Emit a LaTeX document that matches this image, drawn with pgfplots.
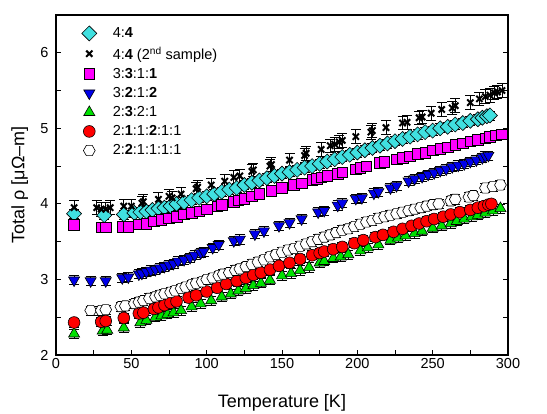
\documentclass[border=0pt]{standalone}
\usepackage{pgfplots}
\pgfplotsset{compat=1.18}
\usepackage{fontspec}
\setmainfont{Liberation Sans}

\definecolor{cyn}{RGB}{64,224,224}
\definecolor{mag}{RGB}{255,0,255}
\definecolor{blu}{RGB}{0,0,235}
\definecolor{grn}{RGB}{0,225,0}
\definecolor{rd}{RGB}{255,0,0}

% hexagon marker for the 2:2:1:1:1:1 sample
\pgfdeclareplotmark{hexagon}{%
  \pgfpathmoveto{\pgfqpointpolar{0}{\pgfplotmarksize}}%
  \pgfpathlineto{\pgfqpointpolar{60}{\pgfplotmarksize}}%
  \pgfpathlineto{\pgfqpointpolar{120}{\pgfplotmarksize}}%
  \pgfpathlineto{\pgfqpointpolar{180}{\pgfplotmarksize}}%
  \pgfpathlineto{\pgfqpointpolar{240}{\pgfplotmarksize}}%
  \pgfpathlineto{\pgfqpointpolar{300}{\pgfplotmarksize}}%
  \pgfpathclose
  \pgfusepathqfillstroke}

\begin{document}
\begin{tikzpicture}
\useasboundingbox (-56pt,-59pt) rectangle (491pt,355pt);
\begin{axis}[
  scale only axis,
  width=452pt, height=340pt,
  xmin=0, xmax=300, ymin=2, ymax=6.5,
  xtick={0,50,...,300}, ytick={2,3,4,5,6},
  minor x tick num=1, minor y tick num=1,
  tick align=inside, xtick pos=bottom, ytick pos=both, yticklabel pos=left,
  major tick length=5pt, minor tick length=5pt,
  every tick/.style={black, line width=0.9pt},
  axis line style={line width=1.2pt},
  tick label style={font=\fontsize{14.5}{16}\selectfont},
  /pgf/number format/assume math mode=true,
  yticklabel style={xshift=-4pt},
  xlabel={Temperature [K]},
  ylabel={Total ρ [μΩ–m]},
  label style={font=\fontsize{18}{20}\selectfont},
  xlabel style={at={(axis description cs:0.5,0)}, anchor=center, yshift=-48pt},
  ylabel style={at={(axis description cs:-0.08,0.5)}, anchor=center},
  legend style={at={(axis description cs:0.05,0.975)}, anchor=north west,
    draw=none, fill=none, font=\fontsize{14.5}{16}\selectfont, row sep=3.5pt,
    /tikz/every odd column/.append style={column sep=14pt}},
  legend cell align=left,
  error bars/y dir=both,
  error bars/error bar style={black, line width=0.75pt},
  error bars/error mark options={black, rotate=90, line width=0.75pt, mark size=5pt},
]
% 4:4
\addplot[only marks, mark=square*, mark size=5.3pt, line width=0.6pt,
  mark options={rotate=45, fill=cyn, draw=black},
  error bars/y fixed=0.06] coordinates {
  (12,3.87) (32,3.85) (45,3.86) (52,3.88) (56,3.89) (60,3.90) (64,3.92)
  (68,3.94) (72,3.95) (76,3.97) (80,4.00) (85,4.02) (90,4.05) (95,4.08)
  (100,4.10) (105,4.13) (110,4.16) (115,4.19) (120,4.21) (125,4.25)
  (130,4.28) (135,4.31) (140,4.34) (145,4.37) (150,4.40) (155,4.42)
  (160,4.45) (165,4.48) (170,4.50) (175,4.53) (180,4.56) (185,4.59)
  (190,4.62) (195,4.65) (200,4.68) (205,4.71) (210,4.74) (215,4.77)
  (220,4.80) (225,4.83) (230,4.86) (235,4.89) (240,4.92) (245,4.95)
  (250,4.97) (255,5.00) (260,5.02) (265,5.05) (270,5.07) (275,5.10)
  (280,5.12) (283,5.14) (286,5.16) (288,5.17)
};
\addlegendentry{4:\textbf{4}}
% 4:4 second sample
\addplot[only marks, mark=x, mark size=4.4pt, black,
  mark options={line width=2pt},
  error bars/y fixed=0.09] coordinates {
  (12,3.95) (27,3.95) (30,3.93) (33,3.93) (36,3.95) (45,3.97) (50,3.97)
  (57,4.01) (58,4.03) (68,4.06) (75,4.10) (77,4.08) (83,4.13) (93,4.20)
  (94,4.22) (103,4.25) (112,4.30) (118,4.35) (122,4.37) (130,4.43)
  (131,4.45) (142,4.50) (143,4.52) (155,4.58) (165,4.64) (166,4.67)
  (176,4.72) (182,4.77) (185,4.79) (188,4.82) (190,4.84) (199,4.89)
  (209,4.95) (210,4.97) (219,5.01) (230,5.07) (233,5.08) (241,5.14)
  (243,5.15) (249,5.20) (256,5.25) (263,5.27) (265,5.30) (275,5.34)
  (281,5.39) (285,5.42) (288,5.44) (291,5.47) (293,5.48) (296,5.50)
};
\addlegendentry{4:\textbf{4} (2\textsuperscript{nd} sample)}
% 3:3:1:1
\addplot[only marks, mark=square*, mark size=5.3pt, line width=0.6pt,
  mark options={fill=mag, draw=black},
  error bars/y fixed=0.06] coordinates {
  (12,3.72) (30,3.69) (33,3.69) (44,3.70) (48,3.70) (55,3.73) (60,3.74)
  (65,3.77) (70,3.79) (75,3.81) (80,3.83) (85,3.86) (90,3.88) (95,3.90)
  (100,3.93) (107,3.97) (110,3.99) (118,4.03) (121,4.05) (125,4.07)
  (130,4.10) (135,4.13) (143,4.17) (150,4.21) (158,4.25) (163,4.27)
  (170,4.32) (173,4.33) (176,4.35) (180,4.37) (187,4.40) (190,4.42)
  (199,4.46) (202,4.48) (206,4.50) (215,4.54) (218,4.56) (226,4.59)
  (230,4.61) (235,4.63) (240,4.66) (245,4.68) (250,4.71) (255,4.73)
  (260,4.75) (265,4.78) (270,4.80) (275,4.83) (280,4.85) (285,4.87)
  (288,4.89) (292,4.91) (296,4.92)
};
\addlegendentry{3:\textbf{3}:1:\textbf{1}}
% 3:2:1:2
\addplot[only marks, mark=triangle*, mark size=6.4pt, line width=0.6pt,
  mark options={rotate=180, fill=blu, draw=black},
  error bars/y fixed=0.06] coordinates {
  (12,2.99) (23,2.98) (33,2.98) (44,3.02) (48,3.03) (55,3.07) (57,3.08)
  (60,3.10) (63,3.12) (66,3.13) (69,3.15) (72,3.17) (75,3.19) (78,3.21)
  (81,3.24) (85,3.26) (89,3.29) (92,3.32) (96,3.35) (98,3.37) (104,3.42)
  (108,3.46) (118,3.51) (122,3.53) (132,3.60) (138,3.64) (148,3.71)
  (155,3.75) (163,3.80) (174,3.89) (178,3.91) (187,3.98) (190,4.01)
  (199,4.07) (203,4.08) (211,4.14) (214,4.16) (222,4.21) (226,4.24)
  (234,4.30) (238,4.33) (243,4.36) (247,4.39) (251,4.41) (255,4.44)
  (259,4.46) (263,4.49) (267,4.51) (271,4.53) (275,4.56) (279,4.58)
  (283,4.61) (285,4.63) (287,4.64)
};
\addlegendentry{3:\textbf{2}:1:\textbf{2}}
% 2:3:2:1
\addplot[only marks, mark=triangle*, mark size=6.4pt, line width=0.6pt,
  mark options={fill=grn, draw=black},
  error bars/y fixed=0.06] coordinates {
  (12,2.28) (31,2.32) (34,2.33) (45,2.36) (56,2.43) (60,2.46) (66,2.50)
  (70,2.52) (74,2.54) (78,2.56) (83,2.59) (90,2.64) (96,2.68) (103,2.72)
  (110,2.77) (116,2.81) (121,2.85) (126,2.88) (131,2.92) (136,2.95)
  (142,2.99) (150,3.05) (156,3.08) (162,3.12) (168,3.16) (175,3.22)
  (178,3.24) (184,3.28) (189,3.30) (194,3.33) (202,3.38) (207,3.42)
  (214,3.46) (222,3.52) (227,3.55) (232,3.58) (238,3.61) (243,3.64)
  (250,3.68) (256,3.71) (262,3.74) (266,3.77) (271,3.80) (276,3.83)
  (280,3.85) (285,3.88) (290,3.91) (295,3.94)
};
\addlegendentry{2:\textbf{3}:2:1}
% 2:1:1:2:1:1
\addplot[only marks, mark=*, mark size=5.9pt, line width=0.6pt,
  mark options={fill=rd, draw=black},
  error bars/y fixed=0.06] coordinates {
  (12,2.43) (30,2.44) (33,2.45) (45,2.49) (55,2.55) (58,2.56) (65,2.61)
  (68,2.63) (72,2.66) (76,2.69) (80,2.71) (88,2.76) (93,2.79) (100,2.84)
  (107,2.89) (113,2.94) (120,2.98) (126,3.02) (131,3.06) (136,3.09)
  (142,3.13) (148,3.18) (155,3.22) (162,3.27) (170,3.32) (175,3.35)
  (178,3.37) (184,3.40) (190,3.43) (198,3.48) (204,3.52) (212,3.56)
  (217,3.59) (224,3.63) (230,3.67) (236,3.71) (241,3.74) (246,3.77)
  (251,3.80) (257,3.83) (262,3.86) (268,3.89) (275,3.92) (280,3.95)
  (284,3.97) (287,3.99) (289,4.00)
};
\addlegendentry{2:\textbf{1}:1:\textbf{2}:1:1}
% 2:2:1:1:1:1
\addplot[only marks, mark=hexagon, mark size=5.9pt, line width=0.6pt,
  mark options={fill=white, draw=black},
  error bars/y fixed=0.06] coordinates {
  (23,2.59) (30,2.59) (33,2.60) (43,2.64) (46,2.65) (52,2.68) (55,2.70)
  (58,2.72) (62,2.75) (66,2.77) (69,2.79) (72,2.81) (76,2.83) (79,2.85)
  (83,2.88) (86,2.90) (90,2.93) (93,2.95) (97,2.97) (100,3.00) (104,3.02)
  (108,3.05) (111,3.07) (115,3.09) (119,3.12) (122,3.14) (126,3.17)
  (130,3.20) (134,3.23) (138,3.26) (142,3.30) (146,3.33) (150,3.36)
  (154,3.39) (158,3.41) (162,3.44) (166,3.47) (170,3.50) (174,3.53)
  (178,3.56) (182,3.59) (186,3.62) (190,3.65) (194,3.67) (198,3.70)
  (202,3.73) (206,3.76) (210,3.78) (214,3.81) (218,3.83) (222,3.85)
  (226,3.87) (230,3.89) (234,3.91) (238,3.93) (242,3.95) (246,3.97)
  (250,3.99) (254,4.00) (262,4.04) (265,4.06) (274,4.09) (277,4.11)
  (285,4.21) (290,4.23) (295,4.25)
};
\addlegendentry{2:\textbf{2}:1:1:1:1}
\end{axis}
\end{tikzpicture}
\end{document}
